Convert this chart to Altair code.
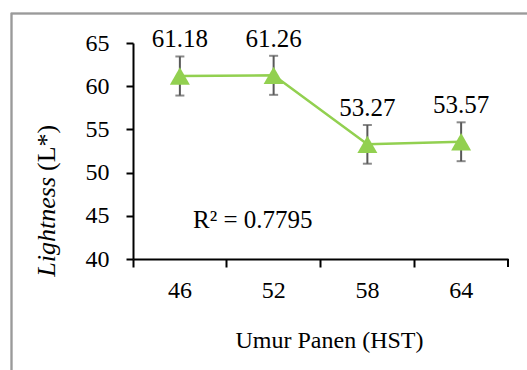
import altair as alt
import pandas as pd

# Data
harvest_age = ["46", "52", "58", "64"]
lightness = [61.18, 61.26, 53.27, 53.57]
error = [2.26, 2.26, 2.24, 2.25]
labels = ["61.18", "61.26", "53.27", "53.57"]
r2_text = "R² = 0.7795"

df = pd.DataFrame({
    "age": harvest_age,
    "L": lightness,
    "lo": [v - e for v, e in zip(lightness, error)],
    "hi": [v + e for v, e in zip(lightness, error)],
    "label": labels,
})

W, H = 375, 216
FONT = "Liberation Serif, Times New Roman, serif"
GREEN = "#92D050"
GREY = "#595959"

x = alt.X("age:N", sort=harvest_age,
          scale=alt.Scale(paddingInner=0, paddingOuter=0),
          axis=alt.Axis(title="Umur Panen (HST)", labelAngle=0, bandPosition=0,
                        tickSize=8, tickWidth=2, tickColor="black",
                        domainColor="black", domainWidth=2,
                        labelFontSize=24, labelFont=FONT, labelColor="black",
                        labelPadding=11,
                        titleFontSize=24, titleFont=FONT, titleFontWeight="normal",
                        titleColor="black", titlePadding=26, titleX=196))
y_scale = alt.Scale(domain=[40, 65], nice=False, zero=False)
y = alt.Y("L:Q", scale=y_scale,
          axis=alt.Axis(title=None, values=[40, 45, 50, 55, 60, 65], grid=False,
                        tickSize=7, tickWidth=2, tickColor="black",
                        domainColor="black", domainWidth=2,
                        labelFontSize=24, labelFont=FONT, labelColor="black",
                        labelPadding=17))

base = alt.Chart(df)

frame = base.mark_rect(fill=None, stroke="#9A9A9A", strokeWidth=1.5, clip=False).encode(
    x=alt.value(-121.5), x2=alt.value(W + 60),
    y=alt.value(-29.5), y2=alt.value(H + 140),
)

line = base.mark_line(color=GREEN, strokeWidth=2.5).encode(x=x, y=y)

err_rule = base.mark_rule(color=GREY, strokeWidth=2).encode(
    x=alt.X("age:N", sort=harvest_age), y=alt.Y("lo:Q", scale=y_scale), y2="hi:Q")
cap_hi = base.mark_tick(color=GREY, thickness=2, size=9, orient="horizontal").encode(
    x=alt.X("age:N", sort=harvest_age), y=alt.Y("hi:Q", scale=y_scale))
cap_lo = base.mark_tick(color=GREY, thickness=2, size=9, orient="horizontal").encode(
    x=alt.X("age:N", sort=harvest_age), y=alt.Y("lo:Q", scale=y_scale))

points = base.mark_point(shape="triangle-up", filled=True, color=GREEN,
                         size=400, opacity=1).encode(x=x, y=y)

value_labels = base.mark_text(font=FONT, fontSize=25, color="black",
                              baseline="alphabetic", dy=-9).encode(
    x=alt.X("age:N", sort=harvest_age), y=alt.Y("hi:Q", scale=y_scale), text="label:N")

r2 = alt.Chart(pd.DataFrame({"t": [r2_text]})).mark_text(
    font=FONT, fontSize=25, color="black", align="left", baseline="alphabetic").encode(
    x=alt.value(60), y=alt.value(185), text="t:N")

ytitle_a = alt.Chart(pd.DataFrame({"t": ["Lightness"]})).mark_text(
    font=FONT, fontSize=26, fontStyle="italic", color="black", angle=270,
    align="right", baseline="middle").encode(
    x=alt.value(-86), y=alt.value(134), text="t:N")
ytitle_b = alt.Chart(pd.DataFrame({"t": ["(L*)"]})).mark_text(
    font=FONT, fontSize=26, color="black", angle=270,
    align="left", baseline="middle").encode(
    x=alt.value(-86), y=alt.value(128), text="t:N")

end_tick = alt.Chart(pd.DataFrame({"a": [0]})).mark_rule(color="black", strokeWidth=2).encode(
    x=alt.value(W), y=alt.value(H), y2=alt.value(H + 8))

chart = alt.layer(frame, line, err_rule, cap_hi, cap_lo, points, value_labels, r2,
                  ytitle_a, ytitle_b, end_tick).properties(
    width=W, height=H,
    autosize=alt.AutoSizeParams(type="none"),
    padding={"left": 133, "top": 43, "right": 19, "bottom": 111},
    background="white",
).configure_view(stroke=None)

chart.save("out.html", embed_options={"renderer": "svg", "actions": False})
